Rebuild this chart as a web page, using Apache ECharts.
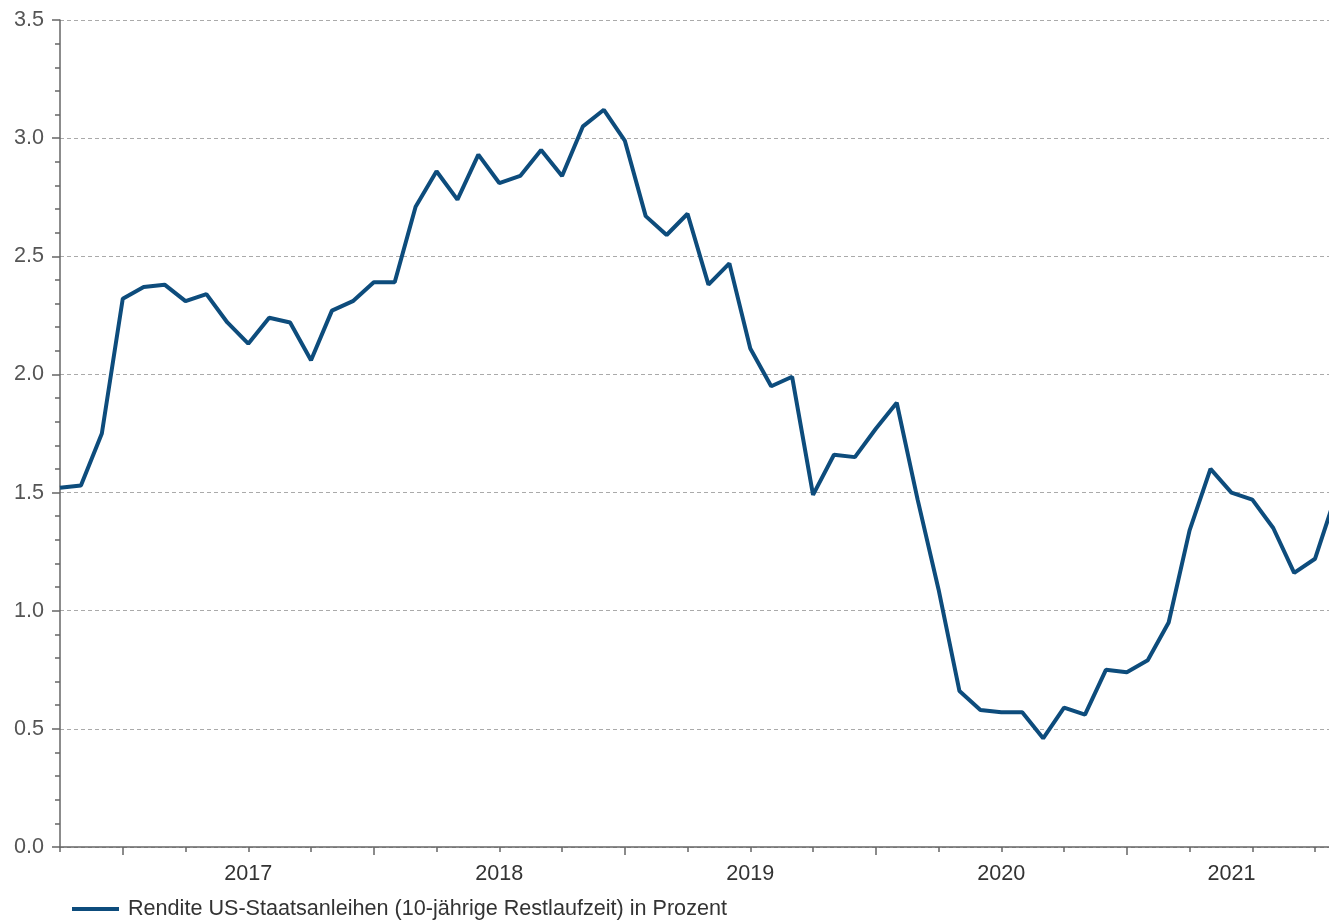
<!DOCTYPE html>
<html>
<head>
<meta charset="utf-8">
<script src="https://cdn.jsdelivr.net/npm/echarts@6/dist/echarts.min.js"></script>
<style>
html,body{margin:0;padding:0;background:#fff;overflow:hidden;}
#chart{width:1329px;height:921px;}
</style>
</head>
<body>
<div id="chart"></div>
<script>
// Monthly observations (first month = Oct 2016)
var startYear = 2016, startMonth = 10;
var seriesName = 'Rendite US-Staatsanleihen (10-jährige Restlaufzeit) in Prozent';
var yields = [1.52, 1.53, 1.75, 2.32, 2.37, 2.38, 2.31, 2.34, 2.22, 2.13, 2.24, 2.22,
  2.06, 2.27, 2.31, 2.39, 2.39, 2.71, 2.86, 2.74, 2.93, 2.81, 2.84, 2.95,
  2.84, 3.05, 3.12, 2.99, 2.67, 2.59, 2.68, 2.38, 2.47, 2.11, 1.95, 1.99,
  1.49, 1.66, 1.65, 1.77, 1.88, 1.47, 1.09, 0.66, 0.58, 0.57, 0.57, 0.46,
  0.59, 0.56, 0.75, 0.74, 0.79, 0.95, 1.34, 1.60, 1.50, 1.47, 1.35, 1.16,
  1.22, 1.49];
var yearLabels = ['2017', '2018', '2019', '2020', '2021'];
var yTicks = [0, 0.5, 1.0, 1.5, 2.0, 2.5, 3.0, 3.5];

// month categories derived from start
var months = yields.map(function (v, i) {
  var m = startMonth - 1 + i;
  return (startYear + Math.floor(m / 12)) + '-' + String(m % 12 + 1).padStart(2, '0');
});
var lastIdx = months.length - 1;
var janIdx = [], labelIdx = [];
var visibleEnd = 60.7; // last month visible inside the picture
yearLabels.forEach(function (y) {
  var s = months.indexOf(y + '-01');
  janIdx.push(s);
  labelIdx.push(Math.round((s + Math.min(s + 12, visibleEnd)) / 2));
});
var data = yields.map(function (v, i) { return [i, v]; });

var fontFam = '"Liberation Sans", Arial, sans-serif';
var chart = echarts.init(document.getElementById('chart'), null, {renderer: 'canvas'});
chart.setOption({
  animation: false,
  backgroundColor: '#ffffff',
  grid: {left: 60, width: 1276, top: 20, bottom: 74, containLabel: false, outerBoundsMode: 'none'},
  legend: {
    left: 67, top: 893,
    itemWidth: 47, itemHeight: 4,
    data: [{name: seriesName, icon: 'rect'}],
    textStyle: {fontFamily: fontFam, fontSize: 21.6, color: '#333', padding: [0, 0, 0, 4]}
  },
  xAxis: [{
    type: 'value', min: 0, max: lastIdx, interval: 3,
    axisLine: {show: true, lineStyle: {color: '#666', width: 1.5}},
    axisTick: {show: true, length: 5, lineStyle: {color: '#666', width: 1.5}},
    axisLabel: {show: false},
    splitLine: {show: false}
  }, {
    type: 'value', min: 0, max: lastIdx, position: 'bottom',
    axisLine: {show: false},
    axisTick: {show: true, length: 8, customValues: janIdx, lineStyle: {color: '#666', width: 1.5}},
    axisLabel: {
      show: true, customValues: labelIdx, margin: 16,
      fontFamily: fontFam, fontSize: 21.6, color: '#333',
      formatter: function (v) {
        var k = labelIdx.indexOf(v);
        return k >= 0 ? yearLabels[k] : '';
      }
    },
    splitLine: {show: false}
  }],
  yAxis: {
    type: 'value', min: yTicks[0], max: yTicks[yTicks.length - 1], interval: 0.5,
    axisLine: {show: true, lineStyle: {color: '#666', width: 1.5}},
    axisTick: {show: true, length: 8, lineStyle: {color: '#666', width: 1.5}},
    minorTick: {show: true, splitNumber: 5, length: 5, lineStyle: {color: '#666', width: 1.5}},
    axisLabel: {
      margin: 16, fontFamily: fontFam, fontSize: 21.6, color: '#555',
      formatter: function (v) { return v.toFixed(1); }
    },
    splitLine: {show: true, lineStyle: {color: '#aaa', type: [4, 3], width: 1}}
  },
  series: [{
    name: seriesName,
    type: 'line',
    xAxisIndex: 0,
    data: data,
    showSymbol: false,
    symbol: 'none',
    lineStyle: {color: '#0d4c7c', width: 4},
    itemStyle: {color: '#0d4c7c'}
  }]
});
</script>
</body>
</html>
